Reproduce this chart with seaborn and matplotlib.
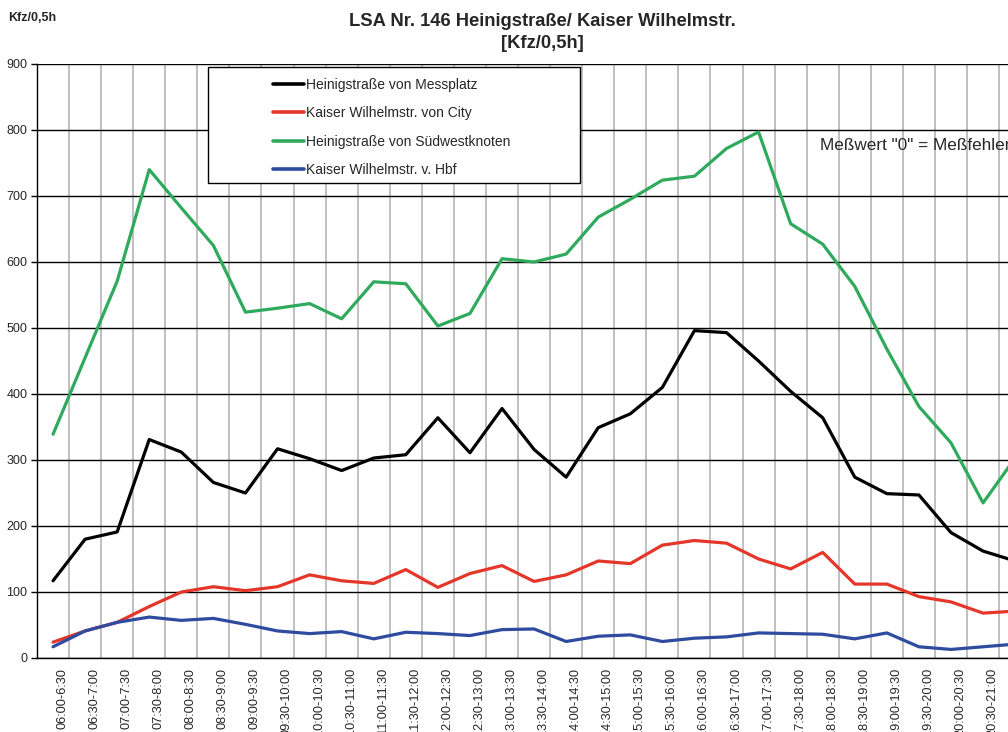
import numpy as np
import pandas as pd
import matplotlib
matplotlib.use("Agg")
import matplotlib.pyplot as plt
import matplotlib.transforms as mtransforms
from matplotlib.patches import Rectangle
from matplotlib.lines import Line2D
import seaborn as sns

# half-hour intervals (the chart is cut off at the right edge)
zeiten = ["06:00-6:30", "06:30-7:00", "07:00-7:30", "07:30-8:00", "08:00-8:30",
          "08:30-9:00", "09:00-9:30", "09:30-10:00", "10:00-10:30", "10:30-11:00",
          "11:00-11:30", "11:30-12:00", "12:00-12:30", "12:30-13:00", "13:00-13:30",
          "13:30-14:00", "14:00-14:30", "14:30-15:00", "15:00-15:30", "15:30-16:00",
          "16:00-16:30", "16:30-17:00", "17:00-17:30", "17:30-18:00", "18:00-18:30",
          "18:30-19:00", "19:00-19:30", "19:30-20:00", "20:00-20:30", "20:30-21:00",
          "21:00-21:30"]

messplatz = [117, 180, 191, 331, 312, 266, 250, 317, 302, 284, 303, 308, 364, 311, 378,
             316, 274, 349, 370, 410, 496, 493, 450, 404, 364, 274, 249, 247, 190, 162, 147]
city = [24, 41, 54, 78, 100, 108, 102, 108, 126, 117, 113, 134, 107, 128, 140,
        116, 126, 147, 143, 171, 178, 174, 150, 135, 160, 112, 112, 93, 85, 68, 71]
suedwest = [339, 455, 571, 740, 682, 625, 524, 530, 537, 514, 570, 567, 503, 522, 605,
            600, 612, 668, 695, 724, 730, 772, 797, 658, 627, 563, 468, 381, 326, 235, 303]
hbf = [17, 41, 54, 62, 57, 60, 51, 41, 37, 40, 29, 39, 37, 34, 43,
       44, 25, 33, 35, 25, 30, 32, 38, 37, 36, 29, 38, 17, 13, 17, 21]

serien = ["Heinigstraße von Messplatz", "Kaiser Wilhelmstr. von City",
          "Heinigstraße von Südwestknoten", "Kaiser Wilhelmstr. v. Hbf"]
werte = [messplatz, city, suedwest, hbf]
farben = ["#000000", "#E5362A", "#2FAA5C", "#2E4BA0"]

rows = []
for name, vals in zip(serien, werte):
    for i, v in enumerate(vals):
        rows.append({"idx": i, "zeit": zeiten[i], "serie": name, "kfz": v})
df = pd.DataFrame(rows)

sns.set_style("white")
plt.rcParams["font.family"] = ["Liberation Sans", "DejaVu Sans"]

fig = plt.figure(figsize=(10.08, 7.32), dpi=100)
n = len(zeiten)
step = 32.07
ax = fig.add_axes([37 / 1008, 74 / 732, n * step / 1008, 594 / 732])

ax.set_axisbelow(True)
sns.lineplot(data=df, x="idx", y="kfz", hue="serie", hue_order=serien,
             palette=farben, linewidth=2.3, legend=False, ax=ax, sort=False)

ax.set_xlim(-0.5, n - 0.5)
ax.set_ylim(0, 900)
ax.set_yticks(np.arange(0, 901, 100))
ax.set_xlabel("")
ax.set_ylabel("")

ax.set_xticks(np.arange(n))
ax.set_xticklabels(zeiten, rotation=90, va="top", ha="center", fontsize=9.2)
ax.set_xticks(np.arange(n) + 0.5, minor=True)
ax.tick_params(axis="x", which="major", length=0, pad=7)
ax.tick_params(axis="x", which="minor", length=4, width=1, color="black", direction="out")
ax.tick_params(axis="y", length=4, width=1, color="black", direction="out",
               labelsize=9, pad=3, left=True)
offset = mtransforms.ScaledTranslation(9 / 100, 0, fig.dpi_scale_trans)
for lbl in ax.get_xticklabels():
    lbl.set_transform(lbl.get_transform() + offset)

ax.grid(False)
ax.grid(axis="x", which="minor", color="#BBBBBB", linewidth=1.3)
ax.grid(axis="y", which="major", color="black", linewidth=1.0)

for s in ["left", "bottom"]:
    ax.spines[s].set_color("black")
    ax.spines[s].set_linewidth(1.0)
ax.spines["top"].set_visible(False)
ax.spines["right"].set_visible(False)

ax.text(23.9, 777, 'Meßwert "0" = Meßfehler', fontsize=12.3, ha="left", va="center")

# legend box
fig.patches.append(Rectangle((208 / 1008, 1 - 183 / 732), 372 / 1008, 116 / 732,
                             transform=fig.transFigure, facecolor="white",
                             edgecolor="black", linewidth=1.0, zorder=5))
handles = [Line2D([0], [0], color=c, linewidth=2.6) for c in farben]
leg = fig.legend(handles, serien, loc="upper left",
                 bbox_to_anchor=(260 / 1008, 1 - 65 / 732), frameon=False,
                 fontsize=10, handlelength=2.3, handletextpad=0.1, labelspacing=1.05)
leg.set_zorder(6)

fig.text(0.538, 1 - 22 / 732, "LSA Nr. 146 Heinigstraße/ Kaiser Wilhelmstr.",
         ha="center", va="center", fontsize=13.2, fontweight="bold")
fig.text(0.538, 1 - 43 / 732, "[Kfz/0,5h]",
         ha="center", va="center", fontsize=13.2, fontweight="bold")
fig.text(8 / 1008, 1 - 18 / 732, "Kfz/0,5h", ha="left", va="center",
         fontsize=9, fontweight="bold")

fig.savefig("out.png", dpi=100)
